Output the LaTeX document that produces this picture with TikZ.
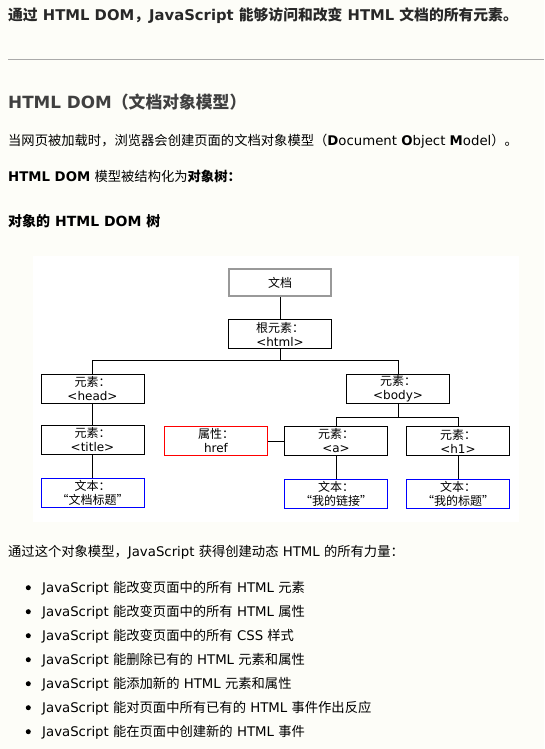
\documentclass[tikz,border=0pt]{standalone}
\usepackage{fontspec}
\setmainfont{DejaVu Sans}
\newfontfamily\zhfont{Noto Sans CJK SC}
\newcommand{\zh}[1]{{\zhfont #1}}
\usetikzlibrary{positioning}

\definecolor{pagebg}{RGB}{253,253,248}
\definecolor{rulegray}{RGB}{170,170,170}
\definecolor{docgray}{RGB}{153,153,153}
\definecolor{headcol}{RGB}{64,64,64}
\definecolor{introcol}{RGB}{40,40,40}

\begin{document}
\begin{tikzpicture}[
  x=1pt, y=-1pt,
  body/.style={anchor=base west, inner sep=0pt, text=black,
    font=\fontsize{13.3}{16}\selectfont},
  elem/.style={
    rectangle, draw=black, line width=1pt, fill=white,
    minimum width=103pt, minimum height=29pt, inner sep=0pt,
    align=center, font=\fontsize{12}{14}\selectfont
  },
  docbox/.style={
    elem, draw=docgray, line width=2pt,
    minimum width=102pt, minimum height=27pt
  },
  attrbox/.style={elem, draw=red},
  textbox/.style={elem, draw=blue},
  link/.style={draw=black, line width=1pt},
  dot/.style={circle, fill=black, inner sep=0pt, minimum size=5pt}
]

% Page
\fill[pagebg] (0,0) rectangle (544,749);
\fill[white] (33,256) rectangle (519,522);

% Text above the tree
\node[body, text=introcol, font=\fontsize{14.8}{17}\selectfont\bfseries] (intro) at (8,21)
  {\zh{通过} HTML DOM\zh{，}JavaScript \zh{能够访问和改变} HTML \zh{文档的所有元素。}};
\draw[rulegray, line width=1pt] (8,59.5) -- (544,59.5);
\node[body, text=headcol, font=\fontsize{16.8}{20}\selectfont\bfseries] (heading) at (8,109)
  {HTML DOM\zh{（文档对象模型）}};
\node[body] (loading) at (8,145)
  {\zh{当网页被加载时，浏览器会创建页面的文档对象模型（}\textbf{D}ocument \textbf{O}bject \textbf{M}odel\zh{）。}};
\node[body] (treeis) at (8,181)
  {\textbf{HTML DOM} \zh{模型被结构化为\bfseries 对象树：}};
\node[body, font=\fontsize{14}{17}\selectfont\bfseries] (treetitle) at (8,226)
  {\zh{对象的} HTML DOM \zh{树}};

% Tree
\node[docbox] (doc) at (280,282.5) {\zh{文档}};
\node[elem, below=22pt of doc] (root) {\zh{根元素：}\\<html>};

\node[elem] (head) at (92.5,389) {\zh{元素：}\\<head>};
\node[elem] (body) at (398,389) {\zh{元素：}\\<body>};

\node[elem, below=21pt of head] (title) {\zh{元素：}\\<title>};
\node[textbox, below=23pt of title] (titletext) {\zh{文本：}\\\zh{“文档标题”}};

\node[elem] (a) at (336,441) {\zh{元素：}\\<a>};
\node[elem] (h1) at (458,441) {\zh{元素：}\\<h1>};
\node[attrbox, left=16pt of a] (href) {\zh{属性：}\\href};

\node[textbox, below=23pt of a] (atext) {\zh{文本：}\\\zh{“我的链接”}};
\node[textbox, below=23pt of h1] (h1text) {\zh{文本：}\\\zh{“我的标题”}};

% Connectors
\draw[link] (doc) -- (root);
\draw[link] (root.south) -- ++(0,11) -| (head);
\draw[link] (root.south) -- ++(0,11) -| (body);
\draw[link] (head) -- (title);
\draw[link] (title) -- (titletext);
\draw[link] (body.south) -- ++(0,13) -| (a);
\draw[link] (body.south) -- ++(0,13) -| (h1);
\draw[link] (href) -- (a);
\draw[link] (a) -- (atext);
\draw[link] (h1) -- (h1text);

% Text below the tree
\node[body] (power) at (8,556)
  {\zh{通过这个对象模型，}JavaScript \zh{获得创建动态} HTML \zh{的所有力量：}};

\foreach \itm [count=\i] in {
  {\zh{能改变页面中的所有} HTML \zh{元素}},
  {\zh{能改变页面中的所有} HTML \zh{属性}},
  {\zh{能改变页面中的所有} CSS \zh{样式}},
  {\zh{能删除已有的} HTML \zh{元素和属性}},
  {\zh{能添加新的} HTML \zh{元素和属性}},
  {\zh{能对页面中所有已有的} HTML \zh{事件作出反应}},
  {\zh{能在页面中创建新的} HTML \zh{事件}}} {
  \node[dot] (dot\i) at (28.3,{587.7+24*(\i-1)}) {};
  \node[body] (item\i) at (42,{592+24*(\i-1)}) {JavaScript \itm};
}

\end{tikzpicture}
\end{document}
